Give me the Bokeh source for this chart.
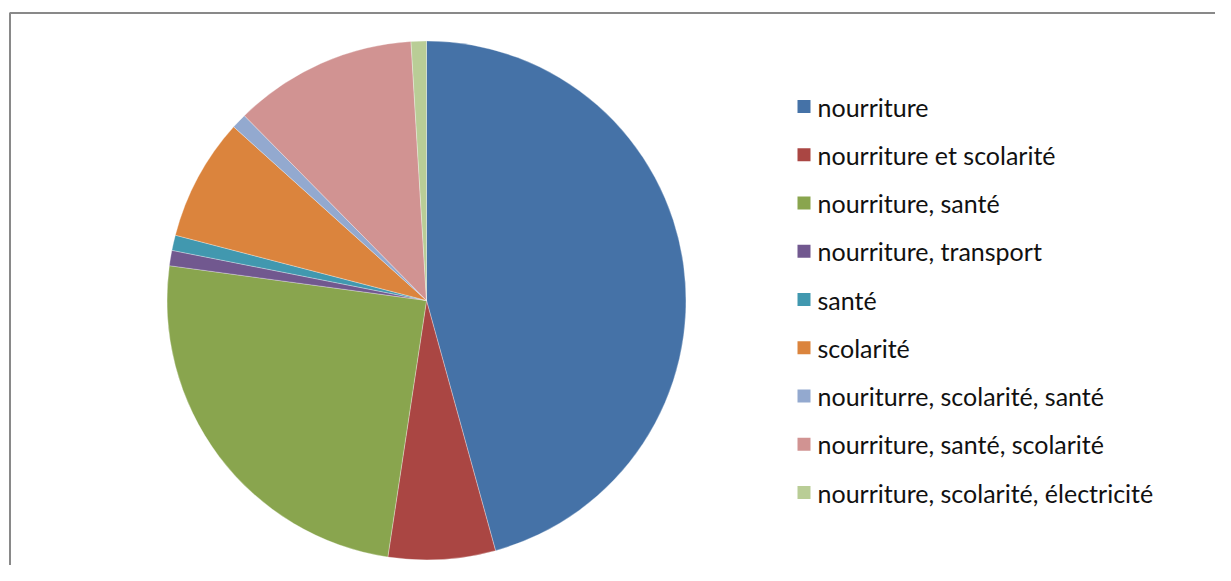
import math
from bokeh.plotting import figure
from bokeh.models import Range1d, ColumnDataSource
from bokeh.core.properties import value
from bokeh.embed import file_html
from bokeh.resources import INLINE

# Data
labels = [
    "nourriture",
    "nourriture et scolarité",
    "nourriture, santé",
    "nourriture, transport",
    "santé",
    "scolarité",
    "nouriturre, scolarité, santé",
    "nourriture, santé, scolarité",
    "nourriture, scolarité, électricité",
]
counts = [48, 7, 26, 1, 1, 8, 1, 12, 1]
colors = ["#4572A7", "#AA4643", "#89A54E", "#71588F", "#4198AF",
          "#DB843D", "#93A9CF", "#D19392", "#B9CD96"]

W, H = 1215, 565
p = figure(width=W, height=H, output_backend="svg", toolbar_location=None,
           x_range=Range1d(0, W), y_range=Range1d(0, H),
           min_border=0, min_border_left=0, min_border_right=0,
           min_border_top=0, min_border_bottom=0)
p.xaxis.visible = False
p.yaxis.visible = False
p.grid.visible = False
p.outline_line_color = None
p.background_fill_color = "white"
p.border_fill_color = "white"

# chart frame (continues past the right and bottom edges)
p.line(x=[9.5, 9.5, W + 50], y=[-50, H - 12.5, H - 12.5], line_color="#898989", line_width=2)

# pie
total = float(sum(counts))
starts, ends = [], []
cum = 0
for c in counts:
    starts.append(math.pi / 2 - 2 * math.pi * cum / total)
    cum += c
    ends.append(math.pi / 2 - 2 * math.pi * cum / total)
src = ColumnDataSource(dict(start=starts, end=ends, color=colors, label=labels))
cx, cy, r = 426, H - 300, 259.5
p.wedge(x=cx, y=cy, radius=r, start_angle="start", end_angle="end",
        direction="clock", fill_color="color", line_color="white",
        line_width=0.6, line_alpha=0.5, source=src)

# legend
step = 48.25
ly = [H - (106 + i * step) for i in range(len(labels))]
lsrc = ColumnDataSource(dict(y=ly, color=colors, label=labels))
p.rect(x=803.5, y="y", width=13, height=13, fill_color="color", line_color=None, source=lsrc)
p.text(x=817, y="y", text="label", text_font=value("Lato"), text_font_size="25px",
       text_color="#111111", text_baseline="middle", text_align="left", source=lsrc)

open("out.html", "w").write(file_html(p, INLINE))
